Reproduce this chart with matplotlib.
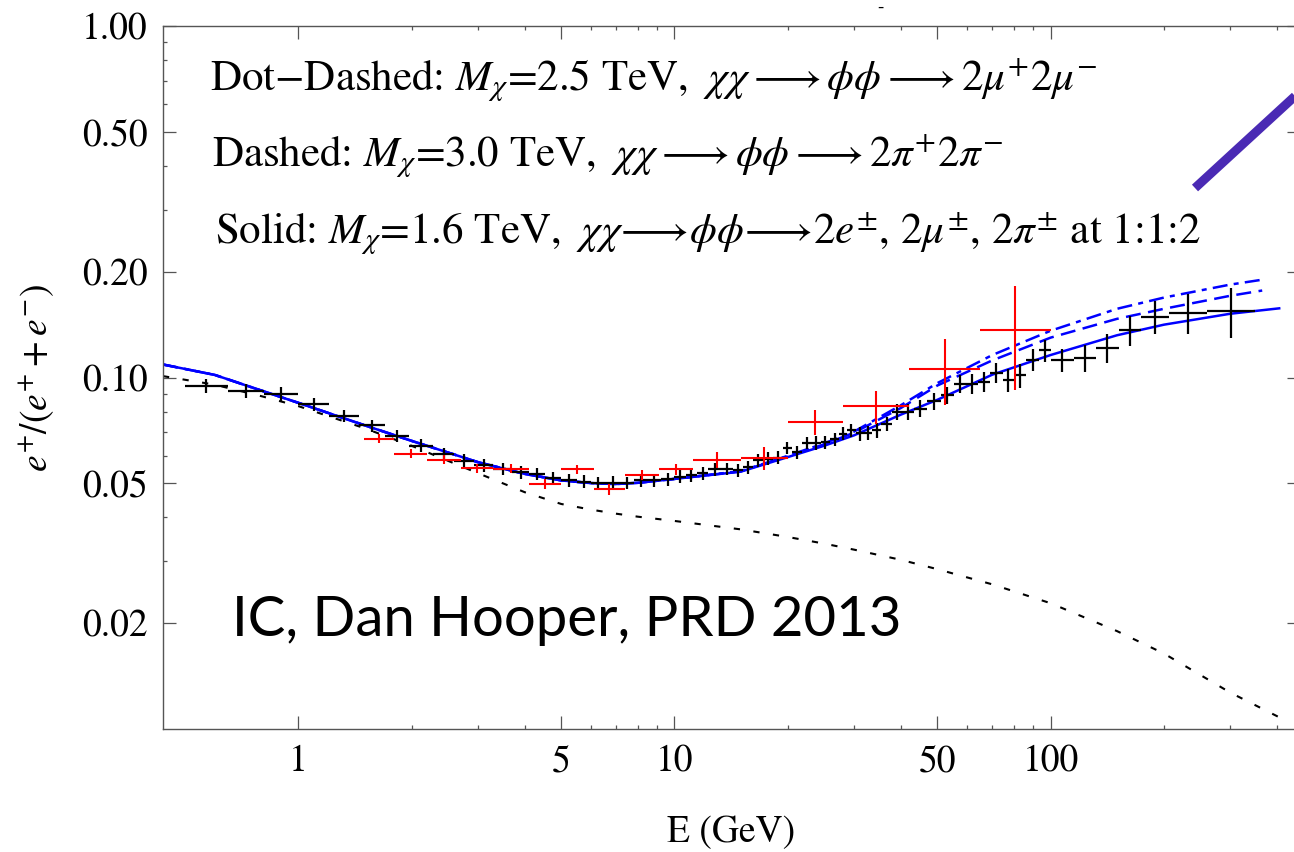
import numpy as np
import matplotlib.pyplot as plt
from matplotlib.ticker import FixedLocator, FixedFormatter, NullFormatter
from matplotlib.lines import Line2D

plt.rcParams['font.family'] = ['STIXGeneral', 'DejaVu Serif']
plt.rcParams['mathtext.fontset'] = 'stix'

# black data (AMS-like), bin edges and fraction
black_edges = [0.50, 0.65, 0.81, 1.00, 1.21, 1.45, 1.70, 1.97, 2.28, 2.60, 2.94, 3.30,
               3.70, 4.11, 4.54, 5.00, 5.50, 6.00, 6.56, 7.16, 7.80, 8.48, 9.21, 9.98,
               10.7, 11.5, 12.3, 13.3, 14.3, 15.2, 16.2, 17.2, 18.3, 19.4, 20.5, 21.8,
               23.2, 24.5, 25.9, 27.4, 28.8, 30.3, 31.9, 33.6, 35.5, 37.8, 40.2, 43.2,
               46.9, 51.0, 55.4, 59.5, 64.0, 69.0, 74.5, 80.0, 86.2, 93.0, 100.0, 115.1,
               132.1, 151.5, 173.5, 206.0, 260.0, 350.0]
black_frac = [0.0945, 0.0916, 0.0900, 0.0839, 0.0780, 0.0731, 0.0684, 0.0641, 0.0605, 0.0581,
              0.0563, 0.0550, 0.0538, 0.0532, 0.0519, 0.0510, 0.0506, 0.0500, 0.0503, 0.0502,
              0.0510, 0.0510, 0.0514, 0.0523, 0.0528, 0.0535, 0.0548, 0.0550, 0.0545, 0.0557,
              0.0582, 0.0588, 0.0592, 0.0631, 0.0614, 0.0652, 0.0652, 0.0656, 0.0667, 0.0693,
              0.0708, 0.0694, 0.0697, 0.0708, 0.0739, 0.0800, 0.0800, 0.0816, 0.0857, 0.0891,
              0.0961, 0.0961, 0.0972, 0.1031, 0.0983, 0.1015, 0.1125, 0.1196, 0.1120, 0.1140,
              0.1214, 0.1364, 0.1490, 0.1528, 0.1545]
black_err = [0.0043, 0.0041, 0.0040, 0.0035, 0.0031, 0.0029, 0.0027, 0.0026, 0.0025, 0.0024,
             0.0023, 0.0022, 0.0022, 0.0021, 0.0021, 0.0021, 0.0021, 0.0021, 0.0021, 0.0021,
             0.0021, 0.0021, 0.0021, 0.0022, 0.0022, 0.0022, 0.0023, 0.0023, 0.0023, 0.0024,
             0.0024, 0.0025, 0.0025, 0.0026, 0.0026, 0.0027, 0.0028, 0.0028, 0.0029, 0.0030,
             0.0031, 0.0032, 0.0033, 0.0034, 0.0036, 0.0040, 0.0042, 0.0045, 0.0048, 0.0052,
             0.0056, 0.0060, 0.0064, 0.0068, 0.0072, 0.0078, 0.0082, 0.0088, 0.0085, 0.0100,
             0.0115, 0.0130, 0.0160, 0.0200, 0.0250]

# red data (PAMELA-like)
red_edges = [1.5, 1.8, 2.2, 2.7, 3.3, 4.1, 5.0, 6.1, 7.4, 9.1, 11.2, 15.0, 20.0, 28.0,
             42.0, 65.0, 100.0]
red_frac = [0.0670, 0.0607, 0.0584, 0.0553, 0.0551, 0.0499, 0.0548, 0.0481, 0.0529, 0.0548,
            0.0584, 0.0590, 0.0747, 0.0828, 0.1060, 0.1370]
red_err = [0.0019, 0.0018, 0.0017, 0.0016, 0.0016, 0.0016, 0.0017, 0.0017, 0.0018, 0.0020,
           0.0030, 0.0044, 0.0061, 0.0090, 0.0225, 0.0450]

# model curves
curve_E = [0.437, 0.6, 0.8, 1.0, 1.5, 2.0, 3.0, 4.0, 5.0, 6.0, 7.0, 8.0, 10, 15, 20, 25,
           30, 40, 50, 70, 100, 150, 200, 300, 405]
solid = [0.1090, 0.1018, 0.0918, 0.0848, 0.0732, 0.0661, 0.0575, 0.0532, 0.0510, 0.0501,
         0.0498, 0.0502, 0.0515, 0.0540, 0.0594, 0.0640, 0.0685, 0.0785, 0.0865, 0.1020,
         0.1160, 0.1320, 0.1415, 0.1520, 0.1575]
background = [0.1010, 0.0955, 0.0885, 0.0830, 0.0718, 0.0640, 0.0535, 0.0472, 0.0437, 0.0421,
              0.0410, 0.0402, 0.0391, 0.0370, 0.0352, 0.0337, 0.0324, 0.0303, 0.0285, 0.0258,
              0.0228, 0.0190, 0.0164, 0.0127, 0.0108]
heavy_E = [0.437, 0.6, 0.8, 1.0, 1.5, 2.0, 3.0, 4.0, 5.0, 6.0, 7.0, 8.0, 10, 15, 20, 25,
           30, 40, 50, 70, 100, 150, 200, 300, 365]
dashed = [0.1090, 0.1018, 0.0918, 0.0848, 0.0732, 0.0661, 0.0575, 0.0532, 0.0510, 0.0501,
          0.0498, 0.0502, 0.0515, 0.0541, 0.0597, 0.0646, 0.0697, 0.0820, 0.0950, 0.1120,
          0.1300, 0.1470, 0.1570, 0.1710, 0.1770]
dotdashed = [0.1090, 0.1018, 0.0918, 0.0848, 0.0732, 0.0661, 0.0575, 0.0532, 0.0510, 0.0501,
             0.0498, 0.0502, 0.0515, 0.0542, 0.0599, 0.0650, 0.0702, 0.0835, 0.0965, 0.1160,
             0.1360, 0.1570, 0.1690, 0.1840, 0.1900]

W, H = 1294, 852
fig = plt.figure(figsize=(W / 100, H / 100), dpi=100)
ax = fig.add_axes([163 / W, 1 - 729 / H, (1300 - 163) / W, (729 - 26.3) / H])
ax.set_xscale('log')
ax.set_yscale('log')
ax.set_xlim(0.437, 460)
ax.set_ylim(0.01, 1.0)

ax.plot(curve_E, background, color='black', lw=1.5, dashes=(3, 6.5))
ax.plot(curve_E, solid, color='#0000ff', lw=1.8)
ax.plot(heavy_E, dashed, color='#0000ff', lw=1.8, dashes=(6, 3))
ax.plot(heavy_E, dotdashed, color='#0000ff', lw=1.8, dashes=(6, 2.5, 2, 2.5))

be = np.array(black_edges)
bx = np.sqrt(be[:-1] * be[1:])
ax.errorbar(bx, black_frac, xerr=[bx - be[:-1], be[1:] - bx], yerr=black_err,
            fmt='none', ecolor='black', elinewidth=1.6, capsize=0)
re = np.array(red_edges)
rx = np.sqrt(re[:-1] * re[1:])
ax.errorbar(rx, red_frac, xerr=[rx - re[:-1], re[1:] - rx], yerr=red_err,
            fmt='none', ecolor='#ff0000', elinewidth=1.5, capsize=0)

ax.xaxis.set_major_locator(FixedLocator([1, 5, 10, 50, 100]))
ax.xaxis.set_major_formatter(FixedFormatter(['1', '5', '10', '50', '100']))
ax.xaxis.set_minor_locator(FixedLocator([2, 3, 4, 6, 7, 8, 9, 20, 30, 40, 60, 70, 80, 90,
                                          200, 300, 400]))
ax.xaxis.set_minor_formatter(NullFormatter())
ax.yaxis.set_major_locator(FixedLocator([0.02, 0.05, 0.1, 0.2, 0.5, 1.0]))
ax.yaxis.set_major_formatter(FixedFormatter(['0.02', '0.05', '0.10', '0.20', '0.50', '1.00']))
ax.yaxis.set_minor_locator(FixedLocator([0.03, 0.04, 0.06, 0.07, 0.08, 0.09,
                                          0.3, 0.4, 0.6, 0.7, 0.8, 0.9]))
ax.yaxis.set_minor_formatter(NullFormatter())
ax.tick_params(which='both', direction='in', top=True, right=True, color='#555555',
               width=0.9, labelsize=27, pad=11)
ax.tick_params(which='major', length=9.5)
ax.tick_params(which='minor', length=3.2)
for s in ax.spines.values():
    s.set_color('#555555')
    s.set_linewidth(1.0)

ax.set_xlabel('E (GeV)', fontsize=27, labelpad=26)
ax.set_ylabel(r'$e^{+}/(e^{+}+e^{-})$', fontsize=27, labelpad=19)

fs = 31
fig.text(210 / W, 1 - 80 / H,
         r'Dot$-$Dashed: $M_{\chi}$=2.5 TeV, $\;\chi\chi\longrightarrow\phi\phi\longrightarrow2\mu^{+}2\mu^{-}$',
         fontsize=fs, va='center', ha='left')
fig.text(212 / W, 1 - 156 / H,
         r'Dashed: $M_{\chi}$=3.0 TeV, $\;\chi\chi\longrightarrow\phi\phi\longrightarrow2\pi^{+}2\pi^{-}$',
         fontsize=fs, va='center', ha='left')
fig.text(215 / W, 1 - 234 / H,
         r'Solid: $M_{\chi}$=1.6 TeV, $\;\chi\chi\!\longrightarrow\!\phi\phi\!\longrightarrow\!2e^{\pm}$, $2\mu^{\pm}$, $2\pi^{\pm}$ at 1:1:2',
         fontsize=fs, va='center', ha='left')
fig.text(232 / W, 1 - 620 / H, 'IC, Dan Hooper, PRD 2013', fontsize=40.5,
         family='Lato', va='center', ha='left')

# purple annotation stroke running off the right edge
fig.add_artist(Line2D([1195 / W, 1330 / W], [1 - 188 / H, 1 - 64 / H],
                      color='#4a2ab4', lw=6.5, solid_capstyle='butt'))
fig.text(880 / W, 1 - 7 / H, '-', fontsize=14, ha='center', va='center')

fig.savefig('out.png', dpi=100)
